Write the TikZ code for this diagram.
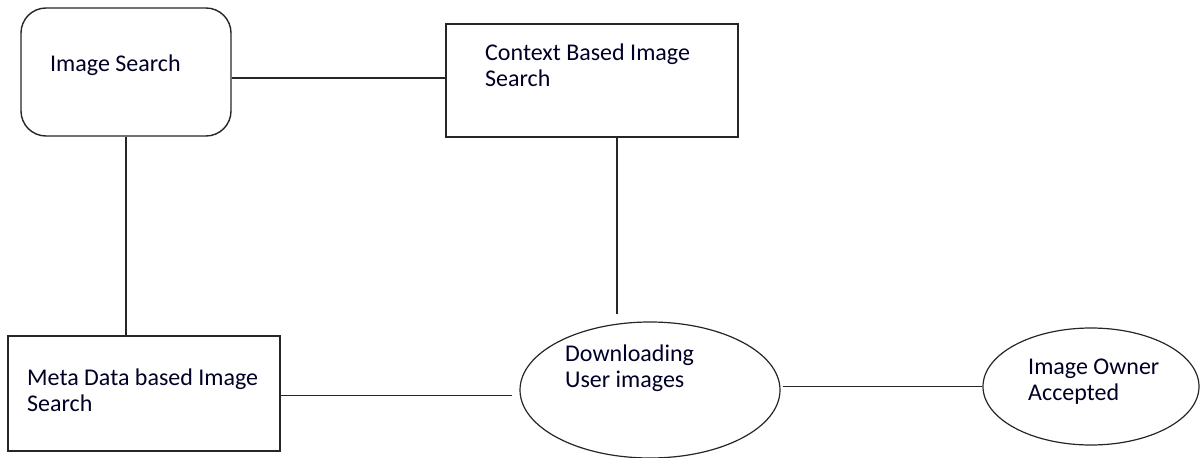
\documentclass[tikz,border=0pt]{standalone}
\usepackage{fontspec}
\setmainfont{Carlito}
\usetikzlibrary{shapes.geometric}
\begin{document}
\begin{tikzpicture}[x=1pt,y=-1pt,
  box/.style={draw=black!85,line width=1.4pt,rectangle,inner sep=0pt},
  oval/.style={draw=black!85,line width=1.2pt,ellipse,inner sep=0pt},
  lbl/.style={anchor=west,align=left,inner sep=0pt,font=\fontsize{24}{26}\selectfont,text=black!85!blue},
  link/.style={draw=black!85,line width=1.4pt}]
\useasboundingbox (0,0) rectangle (1200,458);
% shapes
\node[box,rounded corners=25pt,minimum width=210pt,minimum height=128pt] (is) at (126,72) {};
\node[box,minimum width=292pt,minimum height=113pt] (cb) at (592,80.5) {};
\node[box,minimum width=272pt,minimum height=115pt] (md) at (144,393.5) {};
\node[oval,minimum width=260pt,minimum height=136pt] (dl) at (650,390) {};
\node[oval,minimum width=216pt,minimum height=117pt] (io) at (1091,386.5) {};
% labels
\node[lbl] (tis) at (50,65) {Image Search};
\node[lbl] (tcb) at (485,65) {Context Based Image\\Search};
\node[lbl] (tmd) at (27,390) {Meta Data based Image\\Search};
\node[lbl] (tdl) at (565,368.5) {Downloading\\User images};
\node[lbl] (tio) at (1028,381.5) {Image Owner\\Accepted};
% connectors
\draw[link] ([yshift=-6pt]is.east) -- ([yshift=-6pt]is.east -| cb.west);
\draw[link] (is.south) -- (is.south |- md.north);
\draw[link,shorten >=7pt] ([xshift=25pt]cb.south) -- ([xshift=25pt]cb.south |- dl.north);
\draw[link,shorten >=7pt] ([yshift=-2pt]md.east) -- ([yshift=-2pt]md.east -| dl.west);
\draw[link,shorten <=2pt] (io.west -| dl.east) -- (io.west);
\end{tikzpicture}
\end{document}
